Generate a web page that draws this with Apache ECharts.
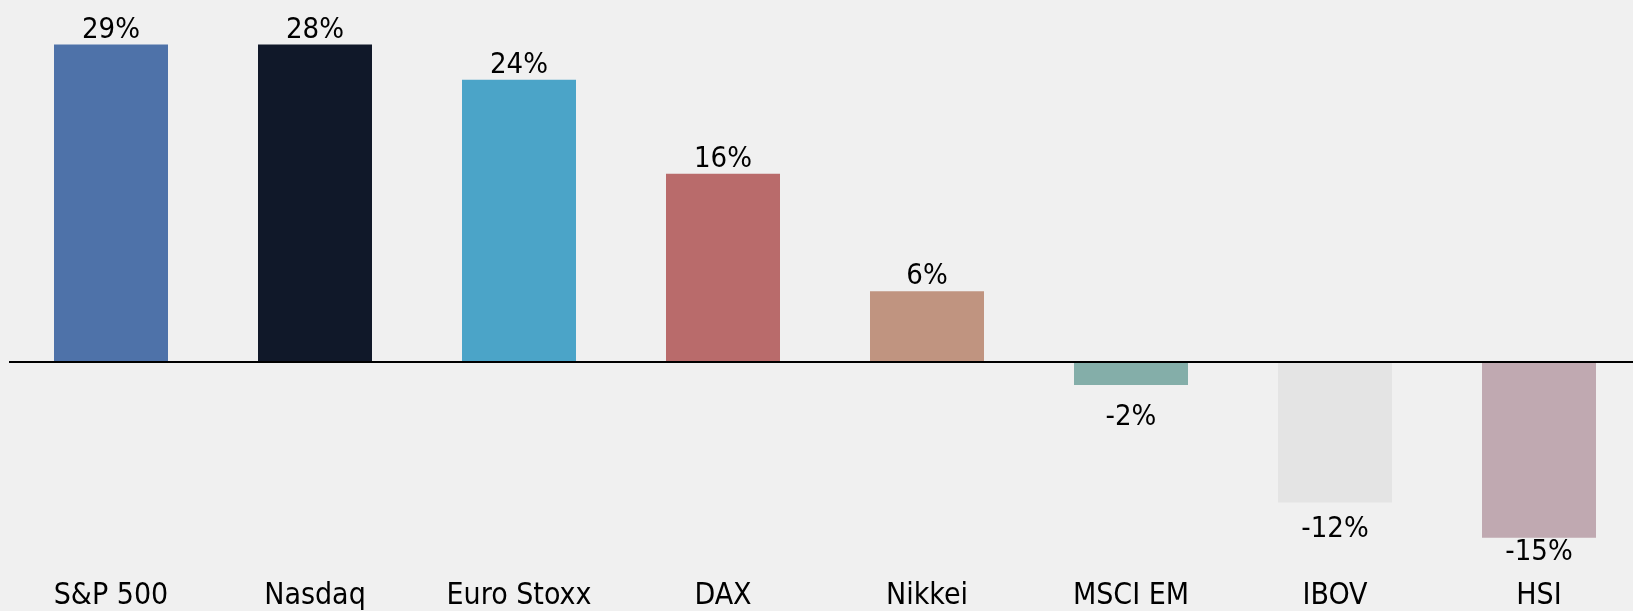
<!DOCTYPE html>
<html>
<head>
<meta charset="utf-8">
<script src="https://cdn.jsdelivr.net/npm/echarts@6/dist/echarts.min.js"></script>
<style>
  html, body { margin: 0; padding: 0; background: #f0f0f0; overflow: hidden; }
  /* a bit wider than the window: the last category is cut at the right edge */
  #chart { width: 1641px; height: 611px; }
</style>
</head>
<body>
<div id="chart"></div>
<script>
// index names and yearly returns (%)
const indices = ['S&P 500', 'Nasdaq', 'Euro Stoxx', 'DAX', 'Nikkei', 'MSCI EM', 'IBOV', 'HSI']
const returns = [29, 28, 24, 16, 6, -2, -12, -15]
const barColors = ['#4e72a9', '#101829', '#4ba4c8', '#b96b6b', '#c09480', '#84aea9', '#e4e4e4', '#c0a9b1']
// gap between a negative bar and its label
const negLabelGap = { 'MSCI EM': 18, 'IBOV': 12, 'HSI': 0 }

const font = '"DejaVu Sans Condensed", "Liberation Sans Narrow", sans-serif'

const chart = echarts.init(document.getElementById('chart'))

const barData = returns.map((v, i) => ({
	value: v,
	itemStyle: { color: barColors[i] },
	label: v < 0 ? { position: 'bottom', distance: negLabelGap[indices[i]] } : {}
}))

chart.setOption({
	animation: false,
	backgroundColor: '#f0f0f0',
	grid: { left: 9, right: 0, top: 44.5, bottom: 37.8, containLabel: false },
	xAxis: {
		type: 'category',
		data: indices,
		axisLine: { show: false, onZero: false },
		axisTick: { show: false },
		axisLabel: { color: '#000', fontSize: 30, fontFamily: font, margin: 8 }
	},
	yAxis: {
		type: 'value',
		min: -18,
		max: 27, // the two largest bars run off the top
		show: false
	},
	series: [
		{
			type: 'bar',
			barWidth: 114,
			data: barData,
			label: {
				show: true,
				position: 'top',
				distance: 0,
				color: '#000',
				fontSize: 29,
				fontFamily: font,
				formatter: p => p.value + '%'
			},
			markLine: {
				silent: true,
				symbol: 'none',
				label: { show: false },
				lineStyle: { color: '#000', width: 2, type: 'solid' },
				data: [ { yAxis: 0 } ]
			}
		}
	]
})
</script>
</body>
</html>
